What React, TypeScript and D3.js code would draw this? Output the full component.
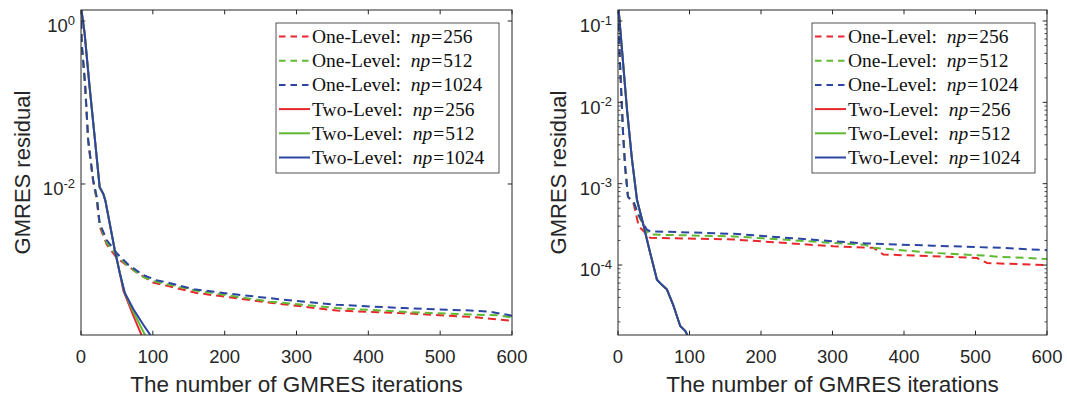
import * as React from "react";
import * as d3 from "d3";

type Pt = [number, number]; // [iteration, residual]

const xTicks = [0, 100, 200, 300, 400, 500, 600];
const leftYTickExps = [0, -2];
const rightYTickExps = [-1, -2, -3, -4];
const npValues = ["256", "512", "1024"];
const methodNames = ["One-Level", "Two-Level"];

// ---- left panel ----
const leftOne256: Pt[] = [
  [0, 1.0], [1, 0.5], [5.6, 0.165], [10, 0.033], [17, 0.0105], [22, 0.0063], [26, 0.003],
  [36, 0.0018], [50, 0.00123], [77, 0.00083], [100, 0.00062], [161, 0.00046], [263, 0.00035],
  [356, 0.00028], [449, 0.00026], [542, 0.000234], [600, 0.00021],
];
const leftOne512: Pt[] = [
  [0, 1.0], [1, 0.52], [5.6, 0.17], [10, 0.034], [17, 0.011], [22, 0.0066], [26, 0.0032],
  [36, 0.0019], [50, 0.00132], [66, 0.00098], [87, 0.00072], [105, 0.00063], [161, 0.00049],
  [263, 0.00036], [356, 0.0003], [449, 0.00027], [542, 0.00025], [580, 0.000245], [600, 0.00023],
];
const leftOne1024: Pt[] = [
  [0, 1.0], [1, 0.54], [5.6, 0.174], [10, 0.035], [17, 0.0112], [22, 0.0069], [26, 0.0033],
  [36, 0.00204], [50, 0.00141], [66, 0.00102], [87, 0.00076], [105, 0.00066], [120, 0.00062],
  [157, 0.00051], [217, 0.00044], [282, 0.00038], [356, 0.00033], [449, 0.0003], [542, 0.00028],
  [570, 0.00027], [597, 0.000245], [600, 0.00024],
];
const leftTwo256: Pt[] = [
  [0, 1.5], [5, 0.71], [12, 0.155], [19, 0.038], [26, 0.0091], [31, 0.0076], [34, 0.0062],
  [47, 0.00155], [54, 0.00081], [59, 0.00049], [73, 0.00024], [85, 0.000135],
];
const leftTwo512: Pt[] = [
  [0, 1.5], [5, 0.71], [12, 0.155], [19, 0.038], [26, 0.0091], [31, 0.0076], [34, 0.0062],
  [47, 0.00155], [54, 0.00081], [61, 0.00046], [73, 0.00027], [90, 0.000135],
];
const leftTwo1024: Pt[] = [
  [0, 1.5], [5, 0.71], [12, 0.155], [19, 0.038], [26, 0.0091], [31, 0.0076], [34, 0.0062],
  [47, 0.00155], [54, 0.00081], [61, 0.00046], [73, 0.00029], [87, 0.000186], [97, 0.000138],
];

// ---- right panel ----
const rightOne256: Pt[] = [
  [0, 0.136], [3, 0.0275], [7, 0.0043], [10, 0.0016], [14, 0.00069], [22, 0.00056], [29, 0.0003],
  [36, 0.00026], [45, 0.000216], [162, 0.000206], [301, 0.00017], [357, 0.000163], [371, 0.000135],
  [441, 0.000128], [502, 0.000122], [516, 0.000106], [600, 0.0000995],
];
const rightOne512: Pt[] = [
  [0, 0.136], [3, 0.0275], [7, 0.0043], [10, 0.0016], [14, 0.00069], [22, 0.00059], [29, 0.0004],
  [40, 0.000263], [45, 0.000237], [162, 0.000225], [301, 0.000187], [345, 0.000178], [357, 0.000163],
  [441, 0.000141], [511, 0.000131], [535, 0.000126], [600, 0.000119],
];
const rightOne1024: Pt[] = [
  [0, 0.136], [3, 0.0275], [7, 0.0043], [10, 0.0016], [14, 0.00069], [22, 0.00059], [29, 0.00041],
  [40, 0.000275], [45, 0.00026], [162, 0.000242], [301, 0.000196], [348, 0.000184], [441, 0.000173],
  [535, 0.000163], [600, 0.000152],
];
const rightTwo256: Pt[] = [
  [0, 0.17], [5.6, 0.044], [12.6, 0.0081], [19.6, 0.00197], [26.6, 0.00063], [36, 0.0003],
  [45, 0.000141], [54.5, 0.000066], [61, 0.0000575], [68.5, 0.00005], [77.6, 0.0000316],
  [87, 0.0000178], [94, 0.0000155], [97, 0.0000138],
];
const rightTwo512: Pt[] = [
  [0, 0.17], [5.6, 0.044], [12.6, 0.0081], [19.6, 0.00197], [26.6, 0.00063], [36, 0.0003],
  [45, 0.000141], [54.5, 0.000066], [61, 0.0000575], [68.5, 0.00005], [77.6, 0.0000316],
  [87, 0.0000178], [94, 0.0000155], [97, 0.0000138],
];
const rightTwo1024: Pt[] = [
  [0, 0.17], [5.6, 0.044], [12.6, 0.0081], [19.6, 0.00197], [26.6, 0.00063], [36, 0.0003],
  [45, 0.000141], [54.5, 0.000066], [61, 0.0000575], [68.5, 0.00005], [77.6, 0.0000316],
  [87, 0.0000178], [94, 0.0000155], [97, 0.0000138],
];

const colors = ["#e8282c", "#5fba33", "#2b46a2"];
const ink = "#262626";
const sansFont = "'Liberation Sans', Arial, Helvetica, sans-serif";
const serifFont = "'Liberation Serif', 'Times New Roman', serif";

const leftSeries = [leftOne256, leftOne512, leftOne1024, leftTwo256, leftTwo512, leftTwo1024];
const rightSeries = [rightOne256, rightOne512, rightOne1024, rightTwo256, rightTwo512, rightTwo1024];

const Panel = ({ id, left, right, top, bottom, yDomain, yTickExps, minor, series, legendX, ylabelX }) => {
  const x = d3.scaleLinear().domain([0, 600]).range([left, right]);
  const y = d3.scaleLog().domain(yDomain).range([bottom, top]);
  const line = d3
    .line<Pt>()
    .x((d) => x(d[0]))
    .y((d) => y(d[1]));
  const tickLen = 4.3;
  const minorLen = 2.5;

  const minorTicks: number[] = [];
  if (minor) {
    const lo = Math.floor(Math.log10(yDomain[0]));
    const hi = Math.ceil(Math.log10(yDomain[1]));
    for (let e = lo; e < hi; e++) {
      for (let m = 2; m <= 9; m++) {
        const v = m * Math.pow(10, e);
        if (v >= yDomain[0] && v <= yDomain[1]) minorTicks.push(v);
      }
    }
  }

  const legTop = 23;
  const legBottom = 173;
  const legW = 223;
  const rowH = 24.2;

  return (
    <g>
      <defs>
        <clipPath id={`clip-${id}`}>
          <rect x={left} y={top} width={right - left} height={bottom - top} />
        </clipPath>
      </defs>
      <rect x={left} y={top} width={right - left} height={bottom - top} fill="#fff" />

      <g clipPath={`url(#clip-${id})`}>
        {series.map((data, i) => (
          <path
            key={i}
            d={line(data) ?? ""}
            fill="none"
            stroke={colors[i % 3]}
            strokeWidth={2}
            strokeDasharray={i < 3 ? "8 5" : undefined}
            strokeLinejoin="round"
          />
        ))}
      </g>

      {/* axes box */}
      <rect x={left} y={top} width={right - left} height={bottom - top} fill="none" stroke={ink} strokeWidth={1} />

      {xTicks.map((t) => (
        <g key={t}>
          <line x1={x(t)} x2={x(t)} y1={bottom} y2={bottom - tickLen} stroke={ink} />
          <line x1={x(t)} x2={x(t)} y1={top} y2={top + tickLen} stroke={ink} />
          <text x={x(t)} y={bottom + 28} textAnchor="middle" fontSize={18.5} fill={ink} fontFamily={sansFont}>
            {t}
          </text>
        </g>
      ))}

      {minorTicks.map((v, i) => (
        <g key={i}>
          <line x1={left} x2={left + minorLen} y1={y(v)} y2={y(v)} stroke={ink} strokeWidth={0.8} />
          <line x1={right} x2={right - minorLen} y1={y(v)} y2={y(v)} stroke={ink} strokeWidth={0.8} />
        </g>
      ))}

      {yTickExps.map((e) => {
        const ty = y(Math.pow(10, e));
        return (
          <g key={e}>
            <line x1={left} x2={left + tickLen} y1={ty} y2={ty} stroke={ink} />
            <line x1={right} x2={right - tickLen} y1={ty} y2={ty} stroke={ink} />
            <text x={left - 6} y={ty + 11.3} textAnchor="end" fontSize={18.5} fill={ink} fontFamily={sansFont}>
              10
              <tspan dy={-7.5} fontSize={13}>
                {String(e)}
              </tspan>
            </text>
          </g>
        );
      })}

      <text
        x={(left + right) / 2}
        y={392}
        textAnchor="middle"
        fontSize={22.5}
        fill={ink}
        fontFamily={sansFont}
      >
        The number of GMRES iterations
      </text>
      <text
        transform={`translate(${ylabelX}, ${(top + bottom) / 2}) rotate(-90)`}
        textAnchor="middle"
        fontSize={22}
        fill={ink}
        fontFamily={sansFont}
      >
        GMRES residual
      </text>

      {/* legend */}
      <rect x={legendX} y={legTop} width={legW} height={legBottom - legTop} fill="#fff" stroke={ink} strokeWidth={0.8} />
      {series.map((_, i) => {
        const cy = legTop + 13.5 + i * rowH;
        const method = methodNames[i < 3 ? 0 : 1];
        return (
          <g key={i}>
            <line
              x1={legendX + 3}
              x2={legendX + 34}
              y1={cy}
              y2={cy}
              stroke={colors[i % 3]}
              strokeWidth={2}
              strokeDasharray={i < 3 ? "6.5 5" : undefined}
            />
            <text x={legendX + 36} y={cy + 6.5} fontSize={19.5} fill="#111" fontFamily={serifFont}>
              {method}:
              <tspan dx={10} fontStyle="italic">
                np
              </tspan>
              <tspan dx={1}>=</tspan>
              <tspan dx={1}>{npValues[i % 3]}</tspan>
            </text>
          </g>
        );
      })}
    </g>
  );
};

export default function App() {
  return (
    <svg
      width={1067}
      height={401}
      viewBox="0 0 1067 401"
      style={{ position: "absolute", left: 0, top: 0, background: "#fff" }}
    >
      <Panel
        id="left"
        left={81}
        right={512}
        top={10}
        bottom={335}
        yDomain={[Math.pow(10, -3.853), Math.pow(10, 0.135)]}
        yTickExps={leftYTickExps}
        minor={false}
        series={leftSeries}
        legendX={276}
        ylabelX={30}
      />
      <Panel
        id="right"
        left={618}
        right={1047}
        top={10}
        bottom={335}
        yDomain={[Math.pow(10, -4.86), Math.pow(10, -0.865)]}
        yTickExps={rightYTickExps}
        minor={true}
        series={rightSeries}
        legendX={812}
        ylabelX={566}
      />
    </svg>
  );
}
